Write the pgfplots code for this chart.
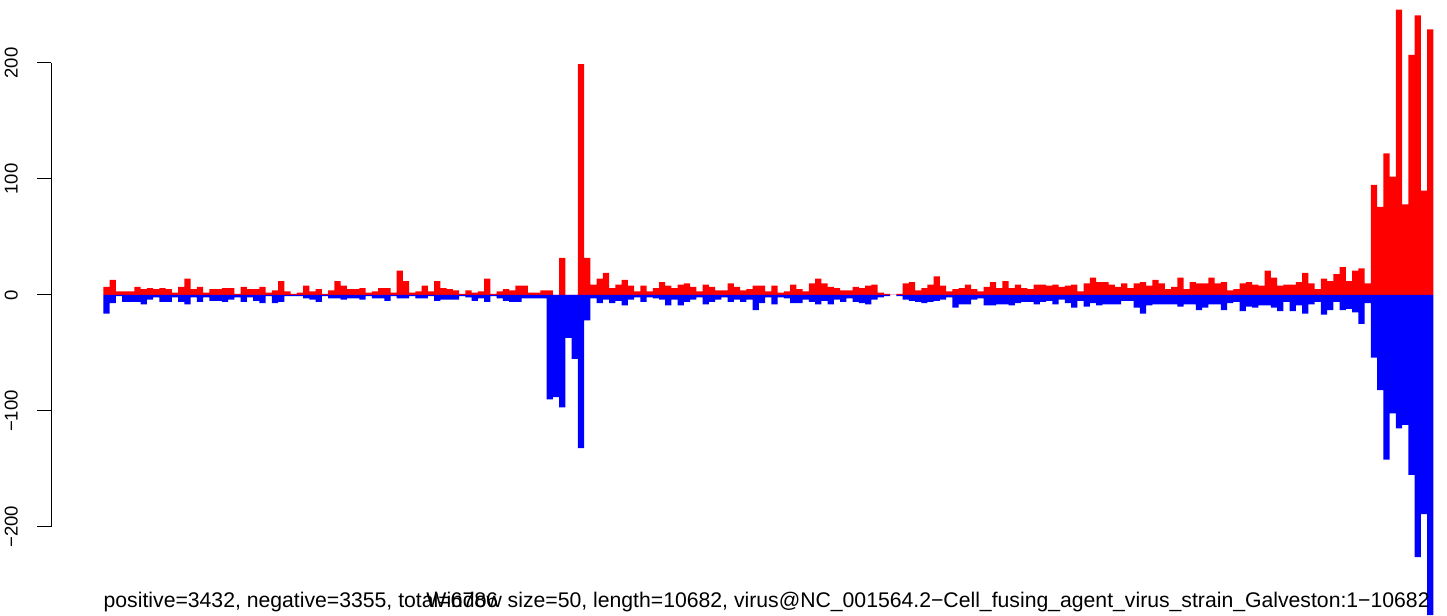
\documentclass[border=0pt]{standalone}
\usepackage{fontspec}
\setmainfont{Liberation Sans}
\usepackage{pgfplots}
\pgfplotsset{compat=1.18}
\usepackage{pgfplotstable}

\pgfplotstableread{
x pos neg
0 7 -16
1 13 -7
2 3 -1
3 3 -6
4 3 -6
5 7 -6
6 5 -8
7 6 -4
8 5 -2
9 6 -6
10 5 -6
11 2 -2
12 7 -6
13 14 -8
14 5 -2
15 7 -6
16 2 -2
17 5 -5
18 5 -5
19 6 -6
20 6 -4
21 1 -2
22 7 -6
23 5 -2
24 5 -5
25 7 -7
26 2 -1
27 4 -7
28 12 -6
29 3 -1
30 1 -1
31 2 -1
32 8 -3
33 3 -4
34 5 -6
35 1 -1
36 4 -3
37 12 -3
38 8 -4
39 5 -3
40 5 -3
41 6 -4
42 2 -1
43 3 -3
44 6 -3
45 6 -5
46 2 -1
47 21 -3
48 12 -3
49 2 -1
50 3 -3
51 8 -3
52 3 -1
53 12 -5
54 6 -4
55 5 -4
56 4 -4
57 1 -1
58 4 -2
59 2 -5
60 3 -3
61 14 -6
62 1 -1
63 3 -3
64 5 -5
65 4 -6
66 8 -6
67 8 -3
68 2 -3
69 2 -3
70 4 -3
71 4 -90
72 0 -88
73 32 -97
74 0 -37
75 0 -55
76 199 -132
77 32 -22
78 9 -3
79 14 -7
80 19 -4
81 6 -7
82 9 -5
83 13 -9
84 8 -4
85 3 -2
86 8 -6
87 3 -2
88 6 -3
89 11 -4
90 8 -9
91 6 -4
92 9 -9
93 10 -6
94 7 -4
95 3 -2
96 9 -8
97 7 -6
98 4 -4
99 4 -2
100 10 -6
101 7 -4
102 4 -6
103 5 -4
104 8 -13
105 8 -7
106 3 -2
107 8 -8
108 2 -2
109 3 -3
110 9 -7
111 5 -7
112 3 -4
113 10 -6
114 14 -8
115 10 -5
116 7 -8
117 6 -4
118 4 -6
119 4 -3
120 7 -6
121 6 -7
122 8 -8
123 9 -4
124 2 -2
125 1 -1
126 0 0
127 1 -1
128 10 -4
129 11 -5
130 4 -6
131 6 -7
132 9 -6
133 16 -5
134 8 -4
135 3 -2
136 5 -11
137 6 -8
138 9 -8
139 5 -4
140 3 -3
141 7 -9
142 11 -9
143 6 -8
144 12 -8
145 6 -9
146 9 -7
147 6 -6
148 5 -6
149 9 -8
150 9 -6
151 8 -5
152 9 -8
153 7 -4
154 8 -7
155 9 -11
156 3 -5
157 10 -10
158 15 -7
159 11 -9
160 11 -8
161 9 -8
162 7 -8
163 10 -5
164 6 -5
165 10 -11
166 11 -16
167 8 -9
168 13 -8
169 10 -8
170 5 -8
171 7 -8
172 15 -10
173 5 -8
174 11 -8
175 10 -13
176 10 -11
177 15 -8
178 10 -8
179 11 -13
180 4 -7
181 5 -6
182 10 -14
183 11 -10
184 9 -11
185 8 -9
186 21 -9
187 15 -11
188 8 -14
189 9 -6
190 9 -14
191 11 -9
192 19 -16
193 10 -8
194 5 -6
195 14 -17
196 12 -13
197 18 -6
198 24 -13
199 12 -12
200 21 -15
201 23 -25
202 10 -7
203 95 -54
204 76 -82
205 122 -142
206 102 -102
207 246 -115
208 78 -112
209 207 -155
210 241 -226
211 90 -189
212 229 -276
}\windows

\begin{document}
\begin{tikzpicture}
\begin{axis}[
  scale only axis,
  width=698pt, height=232pt,
  xmin=-8.87, xmax=214.7,
  ymin=-200, ymax=200,
  clip=false,
  axis x line=none,
  axis y line*=left,
  ytick={-200,-100,0,100,200},
  yticklabels={−200,−100,0,100,200},
  tick align=outside,
  major tick length=6.85pt,
  tick style={line width=0.5pt, black},
  axis line style={line width=0.5pt, black},
  yticklabel shift=9.5pt,
  yticklabel style={rotate=90, anchor=south, inner sep=0pt, font=\fontsize{9.25}{11}\selectfont},
]
\addplot[ybar, bar width=1, bar shift=0pt, fill=red, draw=none] table[x=x, y=pos] {\windows};
\addplot[ybar, bar width=1, bar shift=0pt, fill=blue, draw=none] table[x=x, y=neg] {\windows};
\node[anchor=base west, inner sep=0pt, font=\fontsize{10.6}{12}\selectfont] at (axis cs:-0.5,-269.8) {positive=3432, negative=3355, total=6786};
\node[anchor=base east, inner sep=0pt, font=\fontsize{10.6}{12}\selectfont] at (axis cs:212.0,-269.8) {Window size=50, length=10682, virus@NC\_001564.2−Cell\_fusing\_agent\_virus\_strain\_Galveston:1−10682};
\coordinate (tl) at (axis cs:-17.04,254.3);
\coordinate (br) at (axis cs:214.7,-275.9);
\end{axis}
\pgfresetboundingbox
\useasboundingbox (tl) rectangle (br);
\end{tikzpicture}
\end{document}
